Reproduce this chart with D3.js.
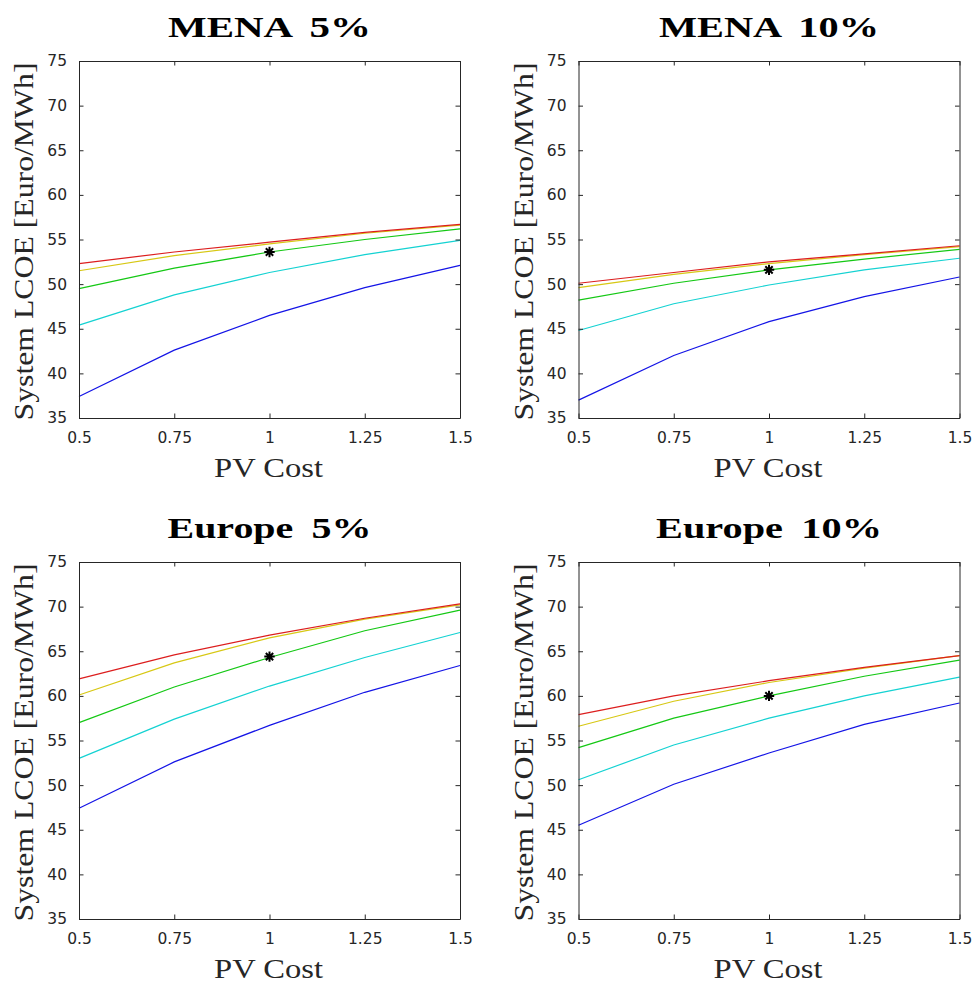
<!DOCTYPE html>
<html>
<head>
<meta charset="utf-8">
<script src="https://cdn.jsdelivr.net/npm/d3@7"></script>
<style>
  body { margin: 0; background: #fff; }
  svg { display: block; }
</style>
</head>
<body>
<svg id="chart" width="975" height="985"></svg>
<script>
// ---------------- DATA ----------------
const pvCost = [0.5, 0.75, 1, 1.25, 1.5];
const xTicks = [0.5, 0.75, 1, 1.25, 1.5];
const xTickLabels = ["0.5", "0.75", "1", "1.25", "1.5"];
const yTicks = [35, 40, 45, 50, 55, 60, 65, 70, 75];
const seriesColors = ["#1414e6", "#14d2d2", "#14c814", "#d7c814", "#dc1e1e"];
const panelTitles = ["MENA 5%", "MENA 10%", "Europe 5%", "Europe 10%"];

// series order: blue, cyan, green, yellow, red
const mena5 = [
  [37.4, 42.6, 46.5, 49.6, 52.1],
  [45.4, 48.8, 51.3, 53.3, 54.9],
  [49.5, 51.8, 53.6, 55.0, 56.2],
  [51.5, 53.2, 54.5, 55.7, 56.6],
  [52.3, 53.6, 54.7, 55.8, 56.7]
];
const mena10 = [
  [37.0, 42.0, 45.8, 48.6, 50.8],
  [44.8, 47.8, 49.9, 51.6, 52.9],
  [48.2, 50.1, 51.6, 52.8, 53.9],
  [49.6, 51.1, 52.3, 53.3, 54.2],
  [50.1, 51.3, 52.5, 53.4, 54.3]
];
const europe5 = [
  [47.4, 52.6, 56.7, 60.4, 63.4],
  [53.0, 57.4, 61.1, 64.3, 67.1],
  [57.0, 61.0, 64.3, 67.3, 69.6],
  [60.1, 63.7, 66.5, 68.6, 70.2],
  [61.9, 64.6, 66.8, 68.7, 70.3]
];
const europe10 = [
  [45.5, 50.1, 53.6, 56.8, 59.2],
  [50.6, 54.5, 57.5, 60.0, 62.1],
  [54.2, 57.5, 60.0, 62.2, 64.0],
  [56.6, 59.4, 61.5, 63.1, 64.5],
  [57.9, 60.0, 61.7, 63.2, 64.5]
];
const starX = [1, 1, 1, 1];
const starY = [53.6, 51.6, 64.4, 60.0];

const xLabel = "PV Cost";
const yLabel = "System LCOE [Euro/MWh]";

// ---------------- LAYOUT ----------------
const panelData = [mena5, mena10, europe5, europe10];
const layout = [
  { left: 79,    top: 61,  titleLen: 203 },
  { left: 578.5, top: 61,  titleLen: 220 },
  { left: 79,    top: 562, titleLen: 204 },
  { left: 578.5, top: 562, titleLen: 226 }
];
const plotW = 381, plotH = 357;
const axisColor = "#262626";
const tickLen = 4.5;

const svg = d3.select("#chart");

layout.forEach((L, i) => {
  const x = d3.scaleLinear().domain([0.5, 1.5]).range([L.left, L.left + plotW]);
  const y = d3.scaleLinear().domain([35, 75]).range([L.top + plotH, L.top]);
  const g = svg.append("g");

  // series lines
  const line = d3.line().x((d, k) => x(pvCost[k])).y(d => y(d));
  panelData[i].forEach((s, si) => {
    g.append("path")
      .attr("d", line(s))
      .attr("fill", "none")
      .attr("stroke", seriesColors[si])
      .attr("stroke-width", 1.2);
  });

  // star marker (MATLAB style asterisk)
  const sx = x(starX[i]), sy = y(starY[i]);
  const r = 5.2;
  const p = d3.path();
  for (let a = 0; a < 4; a++) {
    const ang = a * Math.PI / 4;
    p.moveTo(sx - r * Math.cos(ang), sy - r * Math.sin(ang));
    p.lineTo(sx + r * Math.cos(ang), sy + r * Math.sin(ang));
  }
  g.append("path").attr("d", p.toString()).attr("stroke", "#000")
    .attr("stroke-width", 2).attr("fill", "none");

  // axes (box with inward ticks on all sides)
  const bottom = d3.axisBottom(x).tickValues(xTicks)
    .tickFormat((d, k) => xTickLabels[k]).tickSizeInner(-tickLen).tickSizeOuter(0).tickPadding(14);
  const top = d3.axisTop(x).tickValues(xTicks).tickFormat("").tickSizeInner(-tickLen).tickSizeOuter(0);
  const left = d3.axisLeft(y).tickValues(yTicks).tickFormat(d3.format("d"))
    .tickSizeInner(-tickLen).tickSizeOuter(0).tickPadding(12);
  const right = d3.axisRight(y).tickValues(yTicks).tickFormat("").tickSizeInner(-tickLen).tickSizeOuter(0);

  const axes = [
    g.append("g").attr("transform", `translate(0,${L.top + plotH})`).call(bottom),
    g.append("g").attr("transform", `translate(0,${L.top})`).call(top),
    g.append("g").attr("transform", `translate(${L.left},0)`).call(left),
    g.append("g").attr("transform", `translate(${L.left + plotW},0)`).call(right)
  ];
  axes.forEach(a => {
    a.select(".domain").attr("stroke", axisColor).attr("stroke-width", 1);
    a.selectAll(".tick line").attr("stroke", axisColor).attr("stroke-width", 1);
    a.selectAll(".tick text").attr("fill", axisColor)
      .style("font-family", "'DejaVu Sans', sans-serif").style("font-size", "15.5px");
  });

  const cx = L.left + plotW / 2;

  // title
  svg.append("text")
    .attr("x", cx).attr("y", L.top - 24)
    .attr("text-anchor", "middle")
    .attr("textLength", L.titleLen).attr("lengthAdjust", "spacingAndGlyphs")
    .style("font-family", "'Liberation Serif', serif")
    .style("font-weight", "bold").style("font-size", "29px")
    .style("word-spacing", "6px")
    .attr("fill", "#000")
    .text(panelTitles[i]);

  // x label
  svg.append("text")
    .attr("x", cx - 1).attr("y", L.top + plotH + 59)
    .attr("text-anchor", "middle")
    .attr("textLength", 109).attr("lengthAdjust", "spacingAndGlyphs")
    .style("font-family", "'Liberation Serif', serif").style("font-size", "27px")
    .attr("fill", axisColor)
    .text(xLabel);

  // y label
  svg.append("text")
    .attr("transform", `translate(${L.left - 46},${L.top + plotH / 2 + 2}) rotate(-90)`)
    .attr("text-anchor", "middle")
    .attr("textLength", 358).attr("lengthAdjust", "spacingAndGlyphs")
    .style("font-family", "'Liberation Serif', serif").style("font-size", "28px")
    .attr("fill", axisColor)
    .text(yLabel);
});
</script>
</body>
</html>
